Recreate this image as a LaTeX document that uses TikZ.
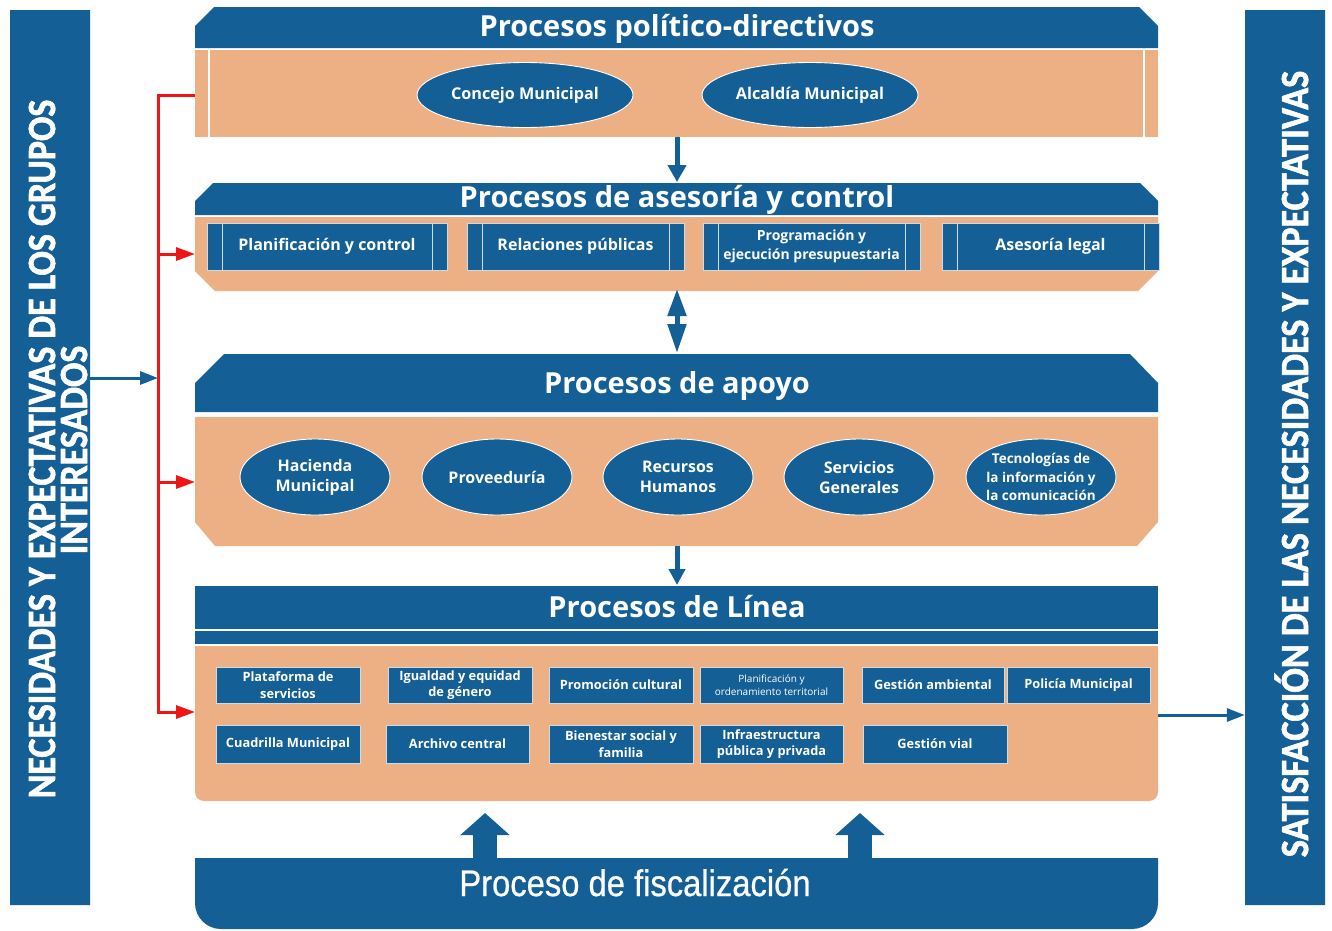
\documentclass[tikz,border=0pt]{standalone}
\usepackage{fontspec}
\setmainfont{Open Sans}
\newfontfamily\sidefont{Carlito}[BoldFeatures={FakeBold=1.6}]
\newfontfamily\fiscfont{Liberation Sans}[FakeBold=0.7]
\usetikzlibrary{arrows.meta,shapes.geometric,shapes.misc}

\definecolor{bandblue}{RGB}{20,96,150}
\definecolor{bandpeach}{RGB}{237,175,132}
\definecolor{boxedge}{RGB}{205,218,232}
\definecolor{linkred}{RGB}{236,22,22}

\tikzset{
  bandhead/.style={text=white, anchor=base, inner sep=0pt,
    font=\bfseries\fontsize{29}{32}\selectfont},
  oval/.style={ellipse, fill=bandblue, draw=white, line width=0.9pt,
    inner sep=0pt, text=white, align=center},
  ovaltext/.style={text=white, align=center, inner sep=0pt},
  procbox/.style={rectangle, fill=bandblue, draw=boxedge, line width=0.8pt,
    inner sep=0pt, minimum height=47pt, text=white, align=center,
    font=\bfseries\fontsize{16}{19}\selectfont,
    path picture={
      \draw[boxedge, line width=0.8pt]
        ([xshift=15pt]path picture bounding box.north west) --
        ([xshift=15pt]path picture bounding box.south west)
        ([xshift=-15pt]path picture bounding box.north east) --
        ([xshift=-15pt]path picture bounding box.south east);}},
  linebox/.style={rectangle, fill=bandblue, draw=boxedge, line width=0.8pt,
    inner sep=0pt, text=white, align=center,
    font=\bfseries\fontsize{12.8}{16.5}\selectfont},
  sidebar/.style={chamfered rectangle, chamfered rectangle xsep=5pt,
    chamfered rectangle ysep=5pt, fill=bandblue, inner sep=0pt,
    minimum width=80pt, minimum height=895pt},
  sidetext/.style={text=white, rotate=90, anchor=base, inner sep=0pt,
    font=\sidefont\bfseries\fontsize{40}{44}\selectfont},
  redlink/.style={draw=linkred, line width=3pt, line join=miter},
  redtip/.style={-{Triangle[length=19pt,width=13pt]}},
  bluelink/.style={draw=bandblue, line width=3pt,
    -{Triangle[length=18pt,width=13pt]}},
  flowarrow/.style={draw=bandblue, line width=5pt},
  fatarrow/.style={draw=bandblue, line width=24pt,
    -{Triangle[length=22pt,width=48pt]}}
}

\begin{document}
\begin{tikzpicture}[x=1pt,y=-1pt]
\useasboundingbox (0,0) rectangle (1332,930);

% side bars
\node[sidebar] (leftbar) at (50,457.5) {};
\node[sidetext] (lefttext1) at (55,449) {\scalebox{0.9}[1]{NECESIDADES Y EXPECTATIVAS DE LOS GRUPOS}};
\node[sidetext] (lefttext2) at (87,450) {\scalebox{0.9}[1]{INTERESADOS}};
\node[sidebar] (rightbar) at (1285,457.5) {};
\node[sidetext] (righttext) at (1308,464) {\scalebox{0.905}[1]{SATISFACCIÓN DE LAS NECESIDADES Y EXPECTATIVAS}};

% band 1: political-directive processes
\fill[bandblue] (195,48) -- (195,26) -- (214,7) -- (1139,7) -- (1158,26) -- (1158,48) -- cycle;
\fill[bandpeach] (195,50) rectangle (1158,137);
\draw[white, line width=1.2pt] (209,50) -- (209,137) (1144,50) -- (1144,137);
\node[bandhead] (hdr1) at (677,36) {Procesos político-directivos};
\node[oval, minimum width=216pt, minimum height=65pt,
  font=\bfseries\fontsize{16.2}{20}\selectfont] (concejo) at (525,95) {Concejo Municipal};
\node[oval, minimum width=216pt, minimum height=65pt,
  font=\bfseries\fontsize{16.2}{20}\selectfont] (alcaldia) at (810,95) {Alcaldía Municipal};

% band 2: advisory and control
\fill[bandblue] (195,215) -- (195,201) -- (213,183) -- (1140,183) -- (1158,201) -- (1158,215) -- cycle;
\fill[bandpeach] (195,217) -- (1158,217) -- (1158,271) -- (1138,291) -- (215,291) -- (195,271) -- cycle;
\node[bandhead] (hdr2) at (677,207) {Procesos de asesoría y control};
\node[procbox, minimum width=240pt] (planif) at (327,246.5) {Planificación y control};
\node[procbox, minimum width=217pt] (relac) at (575.5,246.5) {Relaciones públicas};
\node[procbox, minimum width=217pt, font=\bfseries\fontsize{14}{18.5}\selectfont]
  (progr) at (811.5,246.5) {Programación y\\ejecución presupuestaria};
\node[procbox, minimum width=217pt] (asesor) at (1050.5,246.5) {Asesoría legal};

% band 3: support processes
\fill[bandblue] (195,412) -- (195,383) -- (224,354) -- (1130,354) -- (1158,383) -- (1158,412) -- cycle;
\fill[bandpeach] (195,417) -- (1158,417) -- (1158,522) -- (1137,546) -- (215,546) -- (195,522) -- cycle;
\node[bandhead] (hdr3) at (677,393) {Procesos de apoyo};
\tikzset{apoyo/.style={oval, minimum width=150pt, minimum height=76pt,
  font=\bfseries\fontsize{16}{20}\selectfont}}
\node[apoyo] (hacienda) at (315,477) {Hacienda\\Municipal};
\node[apoyo] (proveed) at (497,477) {Proveeduría};
\node[apoyo] (rrhh) at (678,477) {Recursos\\Humanos};
\node[apoyo] (servgen) at (859,477) {Servicios\\Generales};
\node[apoyo] (tic) at (1041,477) {};
\node[ovaltext, font=\bfseries\fontsize{13.5}{18.5}\selectfont] (tictext) at (tic)
  {Tecnologías de\\la información y\\la comunicación};

% band 4: line processes
\fill[bandblue] (195,586) rectangle (1158,629);
\fill[bandblue] (195,631) rectangle (1158,644);
\fill[bandpeach] (195,646) [rounded corners=9pt] -- (195,801) -- (1158,801) [sharp corners] -- (1158,646) -- cycle;
\node[bandhead] (hdr4) at (677,617) {Procesos de Línea};
\node[linebox, minimum width=144pt, minimum height=36pt] (plataf) at (288,685) {Plataforma de\\servicios};
\node[linebox, minimum width=144pt, minimum height=36pt] (igual) at (460,685) {Igualdad y equidad\\de género};
\node[linebox, minimum width=144pt, minimum height=36pt] (promo) at (621,685) {Promoción cultural};
\node[linebox, minimum width=143pt, minimum height=36pt,
  font=\fontsize{10}{12.5}\selectfont] (ordter) at (771.5,685) {Planificación y\\ordenamiento territorial};
\node[linebox, minimum width=142pt, minimum height=36pt] (gamb) at (933,685) {Gestión ambiental};
\node[linebox, minimum width=143pt, minimum height=36pt] (polic) at (1078.5,685) {Policía Municipal};
\node[linebox, minimum width=144pt, minimum height=38pt] (cuadr) at (288,744) {Cuadrilla Municipal};
\node[linebox, minimum width=143pt, minimum height=38pt] (archiv) at (457.5,744) {Archivo central};
\node[linebox, minimum width=144pt, minimum height=38pt] (bienes) at (621,744) {Bienestar social y\\familia};
\node[linebox, minimum width=143pt, minimum height=38pt] (infra) at (771.5,744) {Infraestructura\\pública y privada};
\node[linebox, minimum width=144pt, minimum height=38pt] (gvial) at (935,744) {Gestión vial};

% oversight band
\fill[bandblue] (195,858) [rounded corners=26pt] -- (195,929) -- (1158,929) [sharp corners] -- (1158,858) -- cycle;
\node[anchor=base, text=white, inner sep=0pt, font=\fiscfont\fontsize{37}{40}\selectfont]
  (hdr5) at (635,896) {\scalebox{0.885}[1]{Proceso de fiscalización}};

% flow between bands
\coordinate (pol-s) at (677,137);
\coordinate (asc-n) at (677,182);
\coordinate (asc-s) at (677,289);
\coordinate (apo-n) at (677,353);
\coordinate (apo-s) at (677,546);
\coordinate (lin-n) at (677,585);
\draw[flowarrow, -{Triangle[length=17pt,width=18pt]}] (pol-s) -- (asc-n);
\draw[flowarrow, {Triangle[length=27pt,width=18pt]}-{Triangle[length=29pt,width=18pt]}] (asc-s) -- (apo-n);
\draw[flowarrow, -{Triangle[length=16pt,width=16pt]}] (apo-s) -- (lin-n);

% oversight arrows
\coordinate (fis-a) at (485,858);
\coordinate (lin-a) at (485,813);
\coordinate (fis-b) at (860,858);
\coordinate (lin-b) at (860,813);
\draw[fatarrow] (fis-a) -- (lin-a);
\draw[fatarrow] (fis-b) -- (lin-b);

% stakeholder inputs
\coordinate (r-top) at (158,95);
\coordinate (r-asc) at (158,254);
\coordinate (r-mid) at (158,378);
\coordinate (r-apo) at (158,482);
\coordinate (r-lin) at (158,712);
\coordinate (in-pol) at (195,95);
\coordinate (in-asc) at (195,254);
\coordinate (in-apo) at (195,482);
\coordinate (in-lin) at (195,712);
\draw[redlink, redtip] (in-pol) -- (r-top) -- (r-lin) -- (in-lin);
\draw[redlink, redtip] (r-asc) -- (in-asc);
\draw[redlink, redtip] (r-apo) -- (in-apo);
\draw[bluelink] (leftbar.east |- r-mid) -- (r-mid);

% output to satisfaction
\coordinate (out-lin) at (1158,715);
\draw[bluelink] (out-lin) -- (rightbar.west |- out-lin);
\end{tikzpicture}
\end{document}
